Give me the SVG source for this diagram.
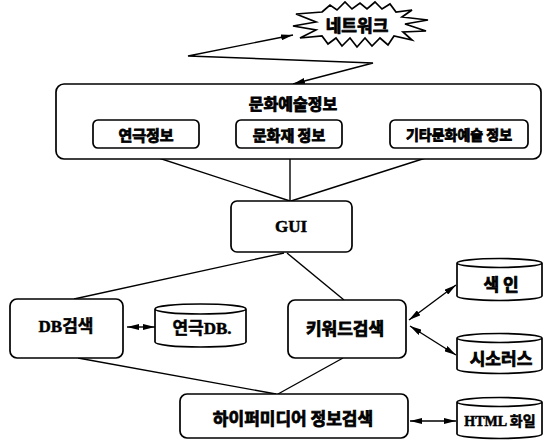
<svg xmlns="http://www.w3.org/2000/svg" width="544" height="441" viewBox="0 0 544 441">
<defs>
<marker id="ah" viewBox="0 0 12 6" refX="12" refY="3" markerWidth="12" markerHeight="6" markerUnits="userSpaceOnUse" orient="auto-start-reverse">
<path d="M0,0 L12,3 L0,6 Z" fill="#000"/>
</marker>
<style>
.box{fill:#fff;stroke:#000;stroke-width:1.7}
.ln{fill:none;stroke:#000;stroke-width:1.4}
.ar{fill:none;stroke:#000;stroke-width:1.4;marker-start:url(#ah);marker-end:url(#ah)}
.ko{font-family:"Noto Sans CJK KR",sans-serif;font-weight:bold;fill:#000;stroke:#000;stroke-width:0.8;text-anchor:middle;dominant-baseline:central}
.mx{font-family:"Liberation Serif","Noto Sans CJK KR",serif;font-weight:bold;fill:#000;stroke:#000;stroke-width:0.5;text-anchor:middle;dominant-baseline:central}
</style>
</defs>
<rect width="544" height="441" fill="#fff"/>

<g id="connectors">
<path class="ar" d="M293,35 L188,56 L373,63 L293,84"/>
<line class="ln" x1="125" y1="147" x2="290" y2="201"/>
<line class="ln" x1="290" y1="147" x2="290" y2="201"/>
<line class="ln" x1="460" y1="147" x2="291" y2="201"/>
<line class="ln" x1="284" y1="253" x2="74" y2="299"/>
<line class="ln" x1="287" y1="253" x2="344" y2="300"/>
<line class="ln" x1="78" y1="358" x2="276" y2="394"/>
<line class="ln" x1="343" y1="358" x2="278" y2="394"/>
<line class="ar" x1="127" y1="327" x2="155" y2="327"/>
<line class="ar" x1="409" y1="320" x2="456" y2="285"/>
<line class="ar" x1="410" y1="326" x2="456" y2="355"/>
<line class="ar" x1="410" y1="421" x2="456" y2="421"/>
</g>

<g id="network">
<polygon class="box" points="322,12 330,5 337,10 345,2 352,9 360,3 367,9 375,2 382,9 390,4 396,12 412,10 402,17 428,20 405,24 426,31 403,32 412,40 394,36 388,45 380,38 372,46 365,38 357,47 350,38 342,46 336,38 328,44 322,36 300,38 316,30 293,26 316,22 296,14"/>
<text class="ko" x="357" y="24" font-size="17">네트워크</text>
</g>

<g id="culture-info">
<rect class="box" x="56" y="84" width="485" height="75" rx="8" stroke-width="2.2"/>
<text class="ko" x="293" y="103" font-size="16">문화예술정보</text>
</g>
<g id="theater-info">
<rect class="box" x="93" y="120" width="106" height="28" rx="5"/>
<text class="ko" x="146" y="134" font-size="15">연극정보</text>
</g>
<g id="heritage-info">
<rect class="box" x="236" y="120" width="106" height="28" rx="5"/>
<text class="ko" x="289" y="134" font-size="15">문화재 정보</text>
</g>
<g id="other-info">
<rect class="box" x="390" y="120" width="138" height="28" rx="5"/>
<text class="ko" x="459" y="134" font-size="14">기타문화예술 정보</text>
</g>

<g id="gui">
<rect class="box" x="231" y="201" width="121" height="51" rx="6"/>
<text class="mx" x="291" y="226" font-size="17">GUI</text>
</g>

<g id="db-search">
<rect class="box" x="10" y="299" width="113" height="59" rx="7"/>
<text class="mx" x="66" y="326" font-size="17">DB검색</text>
</g>

<g id="theater-db">
<path class="box" d="M155,309 V342 A45.5,5 0 0 0 246,342 V309 A45.5,5 0 0 0 155,309 A45.5,5 0 0 0 246,309"/>
<text class="mx" x="202" y="328" font-size="17">연극DB.</text>
</g>

<g id="keyword-search">
<rect class="box" x="288" y="300" width="118" height="58" rx="7"/>
<text class="ko" x="345" y="327" font-size="17">키워드검색</text>
</g>

<g id="index">
<path class="box" d="M457,263 V296 A42.5,4.5 0 0 0 542,296 V263 A42.5,4.5 0 0 0 457,263 A42.5,4.5 0 0 0 542,263"/>
<text class="ko" x="501" y="283" font-size="17">색 인</text>
</g>

<g id="thesaurus">
<path class="box" d="M457,338 V369 A42.5,4.5 0 0 0 542,369 V338 A42.5,4.5 0 0 0 457,338 A42.5,4.5 0 0 0 542,338"/>
<text class="ko" x="501" y="357" font-size="17">시소러스</text>
</g>

<g id="html-file">
<path class="box" d="M457,402 V434 A42.5,4.5 0 0 0 542,434 V402 A42.5,4.5 0 0 0 457,402 A42.5,4.5 0 0 0 542,402"/>
<text class="mx" x="500" y="421" font-size="14">HTML 화일</text>
</g>

<g id="hypermedia-search">
<rect class="box" x="180" y="394" width="228" height="44" rx="7"/>
<text class="ko" x="293" y="417" font-size="17">하이퍼미디어 정보검색</text>
</g>
</svg>
